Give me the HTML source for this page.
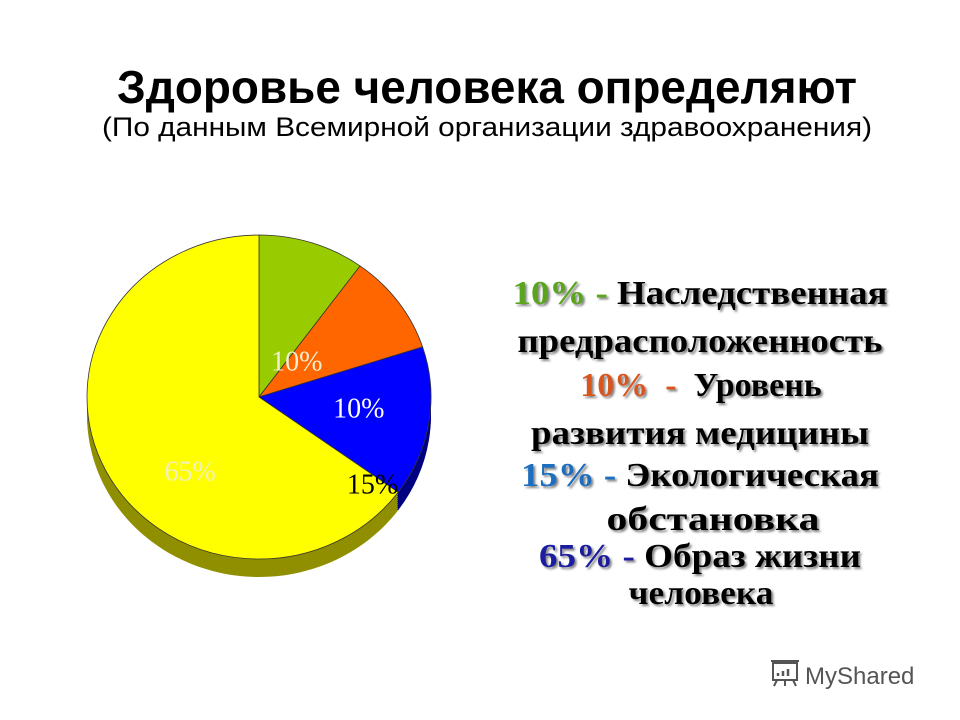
<!DOCTYPE html>
<html><head><meta charset="utf-8"><style>
html,body{margin:0;padding:0;background:#fff;width:960px;height:720px;overflow:hidden}
svg{display:block}
.lg{font-family:"Liberation Serif",serif;font-weight:bold;font-size:34px}
</style></head><body>
<svg id="chart" width="960" height="720" viewBox="0 0 960 720">
<defs><filter id="sh" x="-5%" y="-20%" width="110%" height="140%"><feDropShadow dx="2" dy="2" stdDeviation="1" flood-color="#777" flood-opacity="0.9"/></filter></defs>
<text x="487" y="103" text-anchor="middle" font-family="Liberation Sans, sans-serif" font-weight="bold" font-size="46" textLength="740" lengthAdjust="spacingAndGlyphs">Здоровье человека определяют</text>
<text x="487" y="136" text-anchor="middle" font-family="Liberation Sans, sans-serif" font-size="27" textLength="770" lengthAdjust="spacingAndGlyphs">(По данным Всемирной организации здравоохранения)</text>
<g id="pie"></g>
<g filter="url(#sh)" text-anchor="middle" class="lg">
<text x="700" y="304" textLength="375" lengthAdjust="spacingAndGlyphs"><tspan fill="#5aa51a">10% - </tspan>Наследственная</text>
<text x="700" y="352" textLength="365" lengthAdjust="spacingAndGlyphs">предрасположенность</text>
<text x="701" y="396" xml:space="preserve"><tspan fill="#d8561e">10%  - </tspan> Уровень</text>
<text x="700" y="444" textLength="338" lengthAdjust="spacingAndGlyphs">развития медицины</text>
<text x="700" y="486" textLength="358" lengthAdjust="spacingAndGlyphs"><tspan fill="#1d6ec0">15% - </tspan>Экологическая</text>
<text x="713" y="530" textLength="213" lengthAdjust="spacingAndGlyphs">обстановка</text>
<text x="700" y="567" textLength="322" lengthAdjust="spacingAndGlyphs"><tspan fill="#1a1aa0">65% - </tspan>Образ жизни</text>
<text x="701" y="604" textLength="145" lengthAdjust="spacingAndGlyphs">человека</text>
</g>
<g fill="none" stroke="#555" stroke-width="2">
<rect x="773" y="663" width="24" height="17"/><path d="M771 661h28M777 680l-3 6M785 680v6M793 680l3 6"/>
<path d="M778 676v-3M783 676v-5M788 676v-7" stroke-width="2.5"/>
<text x="805" y="684" fill="#555" stroke="none" font-family="Liberation Sans, sans-serif" font-size="24">MyShared</text>
</g>
</svg>
<script>
const categories=["Наследственность","Медицина","Экология","Образ жизни"];
const values=[10,10,15,65];
const labels=["10%","10%","15%","65%"];
const topColors=["#99cc00","#ff6600","#0000ff","#ffff00"];
const sideColors=["#667f00","#a04000","#000080","#8f8f00"];
const labelColors=["#f0f0d0","#ffffff","#000000","#f0f0c0"];
const cx=259,cy=397,rx=172,ry=162,depth=18;
const ns="http://www.w3.org/2000/svg";
const g=document.getElementById('pie');
const total=values.reduce((a,b)=>a+b,0);
function pt(t,dy){return [cx+rx*Math.sin(t),cy-ry*Math.cos(t)+dy];}
function slicePath(a0,a1,dy){const p0=pt(a0,dy),p1=pt(a1,dy);const large=(a1-a0)>Math.PI?1:0;
return `M${cx},${cy+dy}L${p0[0]},${p0[1]}A${rx},${ry} 0 ${large} 1 ${p1[0]},${p1[1]}Z`;}
const angles=[];let acc=0;
values.forEach(v=>{const a0=acc/total*2*Math.PI;acc+=v;angles.push([a0,acc/total*2*Math.PI]);});
angles.forEach((a,i)=>{for(let d=depth;d>0;d-=2){const p=document.createElementNS(ns,'path');
p.setAttribute('d',slicePath(a[0],a[1],d));p.setAttribute('fill',sideColors[i]);


g.appendChild(p);}});
angles.forEach((a,i)=>{const p=document.createElementNS(ns,'path');
p.setAttribute('d',slicePath(a[0],a[1],0));p.setAttribute('fill',topColors[i]);p.setAttribute('stroke','#333');p.setAttribute('stroke-width','0.8');


g.appendChild(p);});
const lfx=[0.22,0.58,0.66,-0.40],lfy=[-0.22,0.07,0.54,0.46];
angles.forEach((a,i)=>{const x=cx+rx*lfx[i],y=cy+ry*lfy[i];
const t=document.createElementNS(ns,'text');t.textContent=labels[i];
t.setAttribute('x',x);t.setAttribute('y',y+9);t.setAttribute('text-anchor','middle');
t.setAttribute('font-family','Liberation Serif, serif');t.setAttribute('font-size','28');t.setAttribute('fill',labelColors[i]);


g.appendChild(t);});
</script>
</body></html>
